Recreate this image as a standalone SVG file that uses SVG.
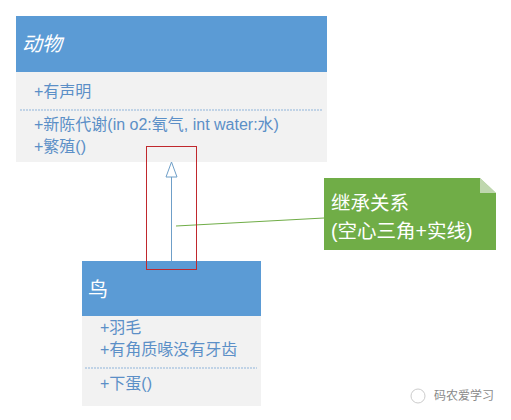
<svg xmlns="http://www.w3.org/2000/svg" width="511" height="420" viewBox="0 0 511 420">
<style>
.hdr{fill:#5b9bd5}
.body{fill:#f2f2f2}
.title{fill:#ffffff;font-family:"Liberation Sans","Noto Sans CJK SC",sans-serif;font-size:20px}
.mem{fill:#5b8fc7;font-family:"Liberation Sans","Noto Sans CJK SC",sans-serif;font-size:16px}
.sep{stroke:#8fb4da;stroke-width:1;stroke-dasharray:2,1}
.note{fill:#ffffff;font-family:"Liberation Sans","Noto Sans CJK SC",sans-serif;font-size:19.5px}
</style>
<rect width="511" height="420" fill="#ffffff"/>
<g id="animal">
<rect class="hdr" x="16" y="16" width="311" height="56"/>
<rect class="body" x="16" y="72" width="311" height="90"/>
<text class="title" x="22" y="51" font-style="italic">动物</text>
<text class="mem" x="34" y="97">+有声明</text>
<line class="sep" x1="20" y1="110" x2="323" y2="110"/>
<text class="mem" x="34" y="130">+新陈代谢(in o2:氧气, int water:水)</text>
<text class="mem" x="34" y="152">+繁殖()</text>
</g>
<g id="bird">
<rect class="hdr" x="82" y="261" width="179" height="55"/>
<rect class="body" x="82" y="316" width="179" height="90"/>
<text class="title" x="88" y="297">鸟</text>
<text class="mem" x="100" y="333">+羽毛</text>
<text class="mem" x="100" y="355" font-size="16.6">+有角质喙没有牙齿</text>
<line class="sep" x1="85" y1="368" x2="257" y2="368"/>
<text class="mem" x="100" y="389">+下蛋()</text>
</g>
<g id="connectors">
<line x1="171.5" y1="261" x2="171.5" y2="177" stroke="#6f9fc8" stroke-width="1"/>
<polygon points="171.5,162 166,177 177,177" fill="#ffffff" stroke="#6f9fc8" stroke-width="1"/>
<line x1="324" y1="218" x2="176" y2="226" stroke="#70ad47" stroke-width="1"/>
</g>
<g id="highlight">
<rect x="146.5" y="146.5" width="50" height="123" fill="none" stroke="#c0282d" stroke-width="1"/>
</g>
<g id="note">
<polygon points="324,178 480,178 496,193 496,250 324,250" fill="#70ad47"/>
<polygon points="480,178 496,193 480,193" fill="#f4f4f4" opacity="0.6"/>
<text class="note" x="331" y="210">继承关系</text>
<text class="note" x="331" y="238">(空心三角+实线)</text>
</g>
<g id="watermark">
<circle cx="418" cy="396" r="7" fill="none" stroke="#cccccc" stroke-width="1"/>
<text x="434" y="400" fill="#8a8a8a" font-family="Liberation Sans,'Noto Sans CJK SC',sans-serif" font-size="12">码农爱学习</text>
</g>
</svg>
